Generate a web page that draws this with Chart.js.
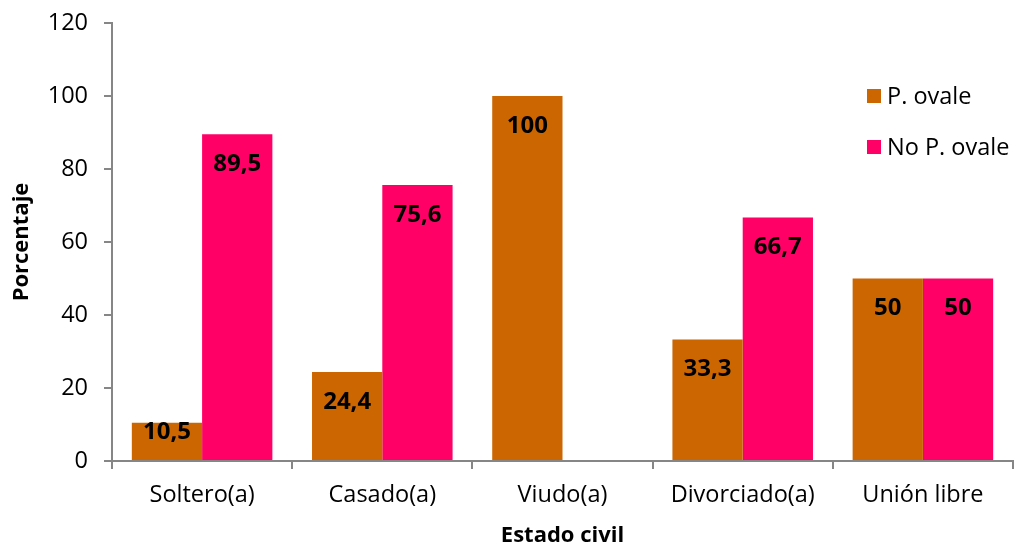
<!DOCTYPE html>
<html>
<head>
<meta charset="utf-8">
<script src="https://cdn.jsdelivr.net/npm/chart.js@4/dist/chart.umd.min.js"></script>
<style>
  html, body { margin: 0; padding: 0; background: #ffffff; }
  #wrap { width: 1015px; height: 546px; }
</style>
</head>
<body>
<div id="wrap"><canvas id="c" width="1015" height="546"></canvas></div>
<script>
// Estado civil vs. P. ovale (%)
const categories = ['Soltero(a)', 'Casado(a)', 'Viudo(a)', 'Divorciado(a)', 'Unión libre'];
const pOvale = [10.5, 24.4, 100, 33.3, 50];
const noPOvale = [89.5, 75.6, null, 66.7, 50];
const seriesNames = ['P. ovale', 'No P. ovale'];
const yTicks = [0, 20, 40, 60, 80, 100, 120];

const FONT = '"Open Sans", "Liberation Sans", sans-serif';
const COLORS = ['#CC6600', '#FF0066'];
const AXIS = '#868686';

// Value labels inside the top of each bar
const valueLabels = {
  id: 'valueLabels',
  afterDatasetsDraw(chart) {
    const ctx = chart.ctx;
    ctx.save();
    ctx.font = 'bold 24px ' + FONT;
    ctx.fillStyle = '#000';
    ctx.textAlign = 'center';
    ctx.textBaseline = 'middle';
    chart.data.datasets.forEach((ds, i) => {
      chart.getDatasetMeta(i).data.forEach((bar, j) => {
        const v = ds.data[j];
        if (v === null || v === undefined) return;
        const h = bar.base - bar.y;
        const off = Math.min(30, h / 2 - 9);
        ctx.fillText(String(v).replace('.', ','), bar.x, bar.y + off);
      });
    });
    ctx.restore();
  }
};

// Legend and axis titles
const decorations = {
  id: 'decorations',
  afterDraw(chart) {
    const ctx = chart.ctx;
    ctx.save();
    ctx.textBaseline = 'middle';
    ctx.textAlign = 'left';
    ctx.font = '23.5px ' + FONT;
    seriesNames.forEach((name, i) => {
      const y = 96 + i * 51;
      ctx.fillStyle = COLORS[i];
      ctx.fillRect(867, y - 7, 14, 14);
      ctx.fillStyle = '#000';
      ctx.fillText(name, 887, y + 1);
    });
    ctx.font = 'bold 22px ' + FONT;
    ctx.textAlign = 'center';
    const area = chart.chartArea;
    ctx.fillText('Estado civil', (area.left + area.right) / 2, 536);
    ctx.translate(22, (area.top + area.bottom) / 2);
    ctx.rotate(-Math.PI / 2);
    ctx.fillText('Porcentaje', 0, 0);
    ctx.restore();
  }
};

new Chart(document.getElementById('c'), {
  type: 'bar',
  data: {
    labels: categories,
    datasets: seriesNames.map((name, i) => ({
      label: name,
      data: i === 0 ? pOvale : noPOvale,
      backgroundColor: COLORS[i],
      borderWidth: 0,
      categoryPercentage: 0.78,
      barPercentage: 1.0
    }))
  },
  options: {
    responsive: false,
    animation: false,
    devicePixelRatio: 1,
    layout: { padding: { top: 23, right: 2, left: 0, bottom: 0 } },
    plugins: { legend: { display: false }, tooltip: { enabled: false } },
    scales: {
      x: {
        afterFit(scale) {
          scale.height = 85;
          scale.paddingLeft = 0;
          scale.paddingRight = 0;
        },
        grid: {
          offset: true,
          drawOnChartArea: false,
          drawTicks: true,
          tickLength: 8,
          color: AXIS,
          lineWidth: 2
        },
        border: { display: true, color: AXIS, width: 2 },
        ticks: { color: '#000', padding: 12, font: { family: FONT, size: 23.5 } }
      },
      y: {
        min: 0,
        max: 120,
        afterFit(scale) {
          scale.width = 112;
          scale.paddingTop = 0;
          scale.paddingBottom = 0;
        },
        afterBuildTicks(scale) { scale.ticks = yTicks.map(v => ({ value: v })); },
        grid: {
          drawOnChartArea: false,
          drawTicks: true,
          tickLength: 8,
          color: AXIS,
          lineWidth: 2
        },
        border: { display: true, color: AXIS, width: 2 },
        ticks: { color: '#000', padding: 16, font: { family: FONT, size: 23.5 } }
      }
    }
  },
  plugins: [valueLabels, decorations]
});
</script>
</body>
</html>
